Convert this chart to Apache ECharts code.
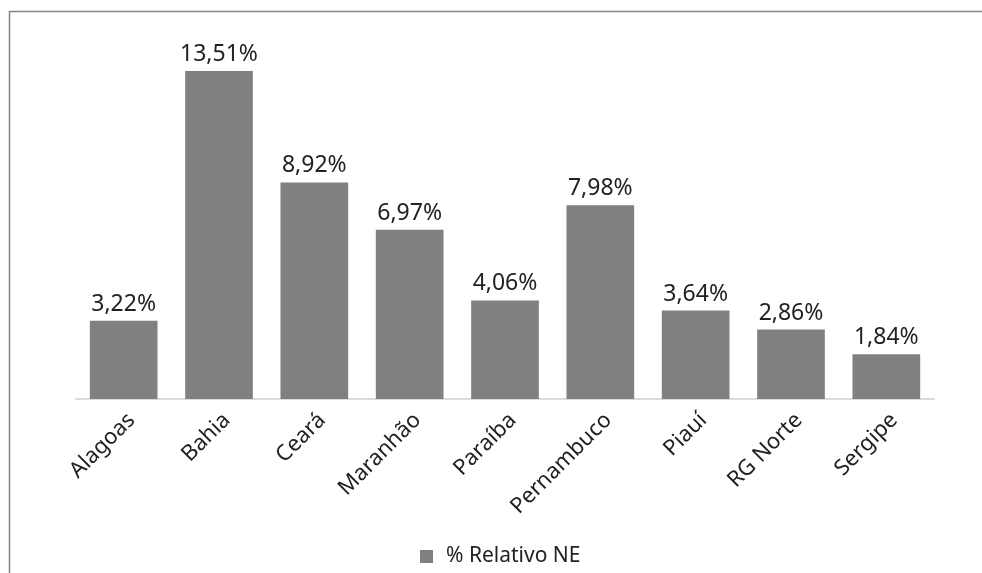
<!DOCTYPE html>
<html>
<head>
<meta charset="utf-8">
<script src="https://cdn.jsdelivr.net/npm/echarts@6/dist/echarts.min.js"></script>
<style>
html, body { margin: 0; padding: 0; background: #fff; }
#chart { width: 982px; height: 573px; }
</style>
</head>
<body>
<div id="chart"></div>
<script>
var categories = ['Alagoas', 'Bahia', 'Ceará', 'Maranhão', 'Paraíba', 'Pernambuco', 'Piauí', 'RG Norte', 'Sergipe']
var percentValues = [3.22, 13.51, 8.92, 6.97, 4.06, 7.98, 3.64, 2.86, 1.84]
var seriesName = '% Relativo NE'

var font = 'Noto Sans'
var myChart = echarts.init(document.getElementById('chart'))
var option = {
    animation: false,
    textStyle: { fontFamily: font },
    graphic: [
        {
            type: 'polyline',
            shape: { points: [[9.5, 573], [9.5, 11.5], [982, 11.5]] },
            style: { stroke: '#858585', lineWidth: 1.5, fill: null }
        }
    ],
    legend: {
        bottom: 1,
        left: 415,
        icon: 'rect',
        itemWidth: 13,
        itemHeight: 13,
        itemGap: 10,
        textStyle: { fontSize: 21, color: '#222', fontFamily: font, padding: [0, 0, 0, 8] },
        data: [seriesName]
    },
    grid: {
        left: 76,
        right: 48,
        top: 34.8,
        bottom: 174,
        containLabel: false
    },
    xAxis: {
        type: 'category',
        data: categories,
        axisLine: { lineStyle: { color: '#d0d0d0', width: 1.5 } },
        axisTick: { show: false },
        axisLabel: {
            rotate: 45,
            fontSize: 22,
            color: '#222',
            margin: 10,
            verticalAlign: 'top',
            fontFamily: font
        }
    },
    yAxis: {
        type: 'value',
        min: 0,
        max: 15,
        show: false
    },
    series: [
        {
            name: seriesName,
            type: 'bar',
            barCategoryGap: '29%',
            itemStyle: { color: '#808083' },
            label: {
                show: true,
                position: 'top',
                distance: 5,
                fontSize: 23,
                color: '#222',
                fontFamily: font,
                formatter: function (p) {
                    return p.value.toFixed(2).replace('.', ',') + '%'
                }
            },
            data: percentValues
        }
    ]
}
myChart.setOption(option)
</script>
</body>
</html>
